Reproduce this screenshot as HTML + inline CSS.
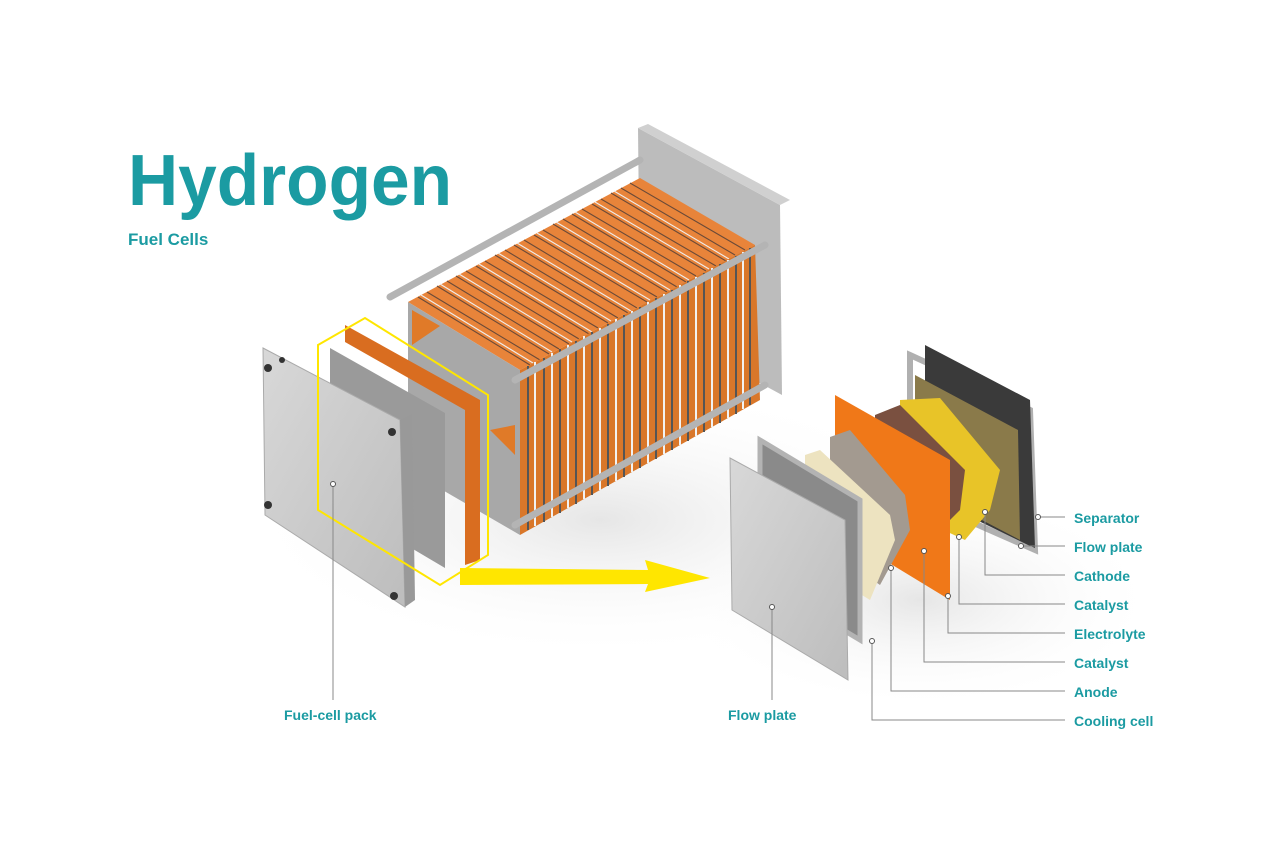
<!DOCTYPE html>
<html><head><meta charset="utf-8"><style>
html,body{margin:0;padding:0;background:#fff;}
svg{display:block}
text{font-family:"Liberation Sans",sans-serif;font-weight:bold;fill:#1b9ba2}
</style></head><body>
<svg width="1280" height="853" viewBox="0 0 1280 853" xmlns="http://www.w3.org/2000/svg">
<defs>
<linearGradient id="pl" x1="0" y1="0" x2="1" y2="1"><stop offset="0" stop-color="#d8d8d8"/><stop offset="1" stop-color="#bdbdbd"/></linearGradient>
<radialGradient id="sh" cx="0.5" cy="0.5" r="0.5"><stop offset="0" stop-color="#e6e6e6"/><stop offset="1" stop-color="#fff" stop-opacity="0"/></radialGradient>
</defs>
<rect width="1280" height="853" fill="#fff"/>
<ellipse cx="600" cy="520" rx="360" ry="140" fill="url(#sh)"/>
<ellipse cx="920" cy="600" rx="240" ry="110" fill="url(#sh)"/>
<text x="128" y="205" font-size="72" textLength="324" lengthAdjust="spacingAndGlyphs">Hydrogen</text>
<text x="128" y="245" font-size="17">Fuel Cells</text>
<!-- big stack -->
<polygon points="638,128 780,205 782,395 640,318" fill="#bcbcbc"/>
<polygon points="638,128 648,124 790,200 780,205" fill="#d0d0d0"/>
<!-- top face -->
<polygon points="408,302 640,178 755,245 520,370" fill="#e8843a"/>
<g stroke="#6a4a38" stroke-width="1.1">
<line x1="418" y1="297" x2="530" y2="365"/><line x1="427" y1="292" x2="540" y2="360"/><line x1="437" y1="286" x2="549" y2="354"/><line x1="447" y1="281" x2="559" y2="349"/><line x1="456" y1="276" x2="569" y2="344"/><line x1="466" y1="271" x2="579" y2="339"/><line x1="476" y1="266" x2="589" y2="334"/><line x1="485" y1="261" x2="598" y2="328"/><line x1="495" y1="255" x2="608" y2="323"/><line x1="505" y1="250" x2="618" y2="318"/><line x1="514" y1="245" x2="628" y2="313"/><line x1="524" y1="240" x2="637" y2="308"/><line x1="534" y1="235" x2="647" y2="302"/><line x1="543" y1="230" x2="657" y2="297"/><line x1="553" y1="224" x2="667" y2="292"/><line x1="563" y1="219" x2="677" y2="287"/><line x1="572" y1="214" x2="686" y2="282"/><line x1="582" y1="209" x2="696" y2="276"/><line x1="592" y1="204" x2="706" y2="271"/><line x1="601" y1="199" x2="716" y2="266"/><line x1="611" y1="193" x2="726" y2="261"/><line x1="621" y1="188" x2="735" y2="255"/><line x1="630" y1="183" x2="745" y2="250"/>
</g>
<g stroke="#eeeeee" stroke-width="1.1" transform="translate(3,-2)">
<line x1="418" y1="297" x2="530" y2="365"/><line x1="437" y1="286" x2="549" y2="354"/><line x1="456" y1="276" x2="569" y2="344"/><line x1="476" y1="266" x2="589" y2="334"/><line x1="495" y1="255" x2="608" y2="323"/><line x1="514" y1="245" x2="628" y2="313"/><line x1="534" y1="235" x2="647" y2="302"/><line x1="553" y1="224" x2="667" y2="292"/><line x1="572" y1="214" x2="686" y2="282"/><line x1="592" y1="204" x2="706" y2="271"/><line x1="611" y1="193" x2="726" y2="261"/>
</g>
<!-- front end frame -->
<polygon points="408,302 520,370 520,535 408,470" fill="#a8a8a8"/>
<polygon points="412,310 440,326 412,345" fill="#e07a28"/>
<polygon points="515,425 515,455 490,430" fill="#e07a28"/>
<polygon points="412,440 440,460 412,462" fill="#e07a28"/>
<!-- side face -->
<polygon points="520,370 755,245 760,400 520,535" fill="#d9772a"/>
<g stroke="#555" stroke-width="2">
<line x1="528" y1="366" x2="528" y2="530"/><line x1="544" y1="358" x2="544" y2="522"/><line x1="560" y1="349" x2="560" y2="513"/><line x1="576" y1="341" x2="576" y2="504"/><line x1="592" y1="332" x2="592" y2="495"/><line x1="608" y1="324" x2="608" y2="486"/><line x1="624" y1="315" x2="624" y2="477"/><line x1="640" y1="307" x2="640" y2="468"/><line x1="656" y1="298" x2="656" y2="459"/><line x1="672" y1="290" x2="672" y2="450"/><line x1="688" y1="281" x2="688" y2="441"/><line x1="704" y1="273" x2="704" y2="432"/><line x1="720" y1="264" x2="720" y2="423"/><line x1="736" y1="256" x2="736" y2="414"/><line x1="750" y1="248" x2="750" y2="405"/>
</g>
<g stroke="#f2f2f2" stroke-width="2">
<line x1="535" y1="362" x2="535" y2="526"/><line x1="552" y1="353" x2="552" y2="517"/><line x1="568" y1="345" x2="568" y2="508"/><line x1="584" y1="336" x2="584" y2="499"/><line x1="600" y1="328" x2="600" y2="490"/><line x1="616" y1="319" x2="616" y2="481"/><line x1="632" y1="311" x2="632" y2="472"/><line x1="648" y1="302" x2="648" y2="463"/><line x1="664" y1="294" x2="664" y2="454"/><line x1="680" y1="285" x2="680" y2="445"/><line x1="696" y1="277" x2="696" y2="436"/><line x1="712" y1="268" x2="712" y2="427"/><line x1="728" y1="260" x2="728" y2="418"/><line x1="743" y1="252" x2="743" y2="409"/>
</g>
<g stroke="#b4b4b4" stroke-width="7" stroke-linecap="round">
<line x1="390" y1="297" x2="640" y2="160"/><line x1="515" y1="380" x2="765" y2="245"/><line x1="515" y1="525" x2="765" y2="385"/>
</g>
<!-- left plates -->
<polygon points="345,325 480,400 480,560 465,565 465,410 345,342" fill="#d96d20"/>
<polygon points="330,348 445,413 445,568 330,500" fill="#9a9a9a"/>
<polygon points="263,348 400,420 405,607 265,515" fill="url(#pl)" stroke="#aaa"/>
<polygon points="400,420 412,414 415,600 405,607" fill="#999"/>
<g fill="#333"><circle cx="268" cy="368" r="4"/><circle cx="392" cy="432" r="4"/><circle cx="268" cy="505" r="4"/><circle cx="394" cy="596" r="4"/><circle cx="282" cy="360" r="3"/></g>
<polygon points="318,345 365,318 488,395 488,555 440,585 318,510" fill="none" stroke="#ffe600" stroke-width="2"/>
<!-- arrow -->
<polygon points="460,568 648,570 645,560 710,578 645,592 648,584 460,585" fill="#ffe600"/>
<!-- right exploded -->
<polygon points="910,355 1030,410 1035,550 910,495" fill="none" stroke="#b0b0b0" stroke-width="6"/>
<polygon points="925,345 1030,400 1035,548 1028,545 925,495" fill="#3a3a3a"/>
<polygon points="915,375 1018,430 1020,540 915,485" fill="#8a7a4a"/>
<polygon points="900,400 940,398 1000,470 990,510 965,540 900,510" fill="#e8c428"/>
<polygon points="875,415 900,405 965,470 960,510 930,540 875,510" fill="#7a5040"/>
<polygon points="835,395 950,460 950,600 835,530" fill="#f07818"/>
<polygon points="830,437 850,430 905,495 910,530 880,585 830,550" fill="#a39a90"/>
<polygon points="805,455 820,450 890,515 895,540 870,600 805,560" fill="#ede3c0"/>
<polygon points="760,440 860,500 860,640 760,580" fill="#8a8a8a" stroke="#b3b3b3" stroke-width="5"/>
<polygon points="730,458 845,520 848,680 732,610" fill="url(#pl)" stroke="#aaa"/>
<!-- leader lines -->
<g stroke="#888" stroke-width="1" fill="none">
<polyline points="333,484 333,700"/><polyline points="772,607 772,700"/>
<polyline points="1038,517 1065,517"/><polyline points="1021,546 1065,546"/>
<polyline points="985,512 985,575 1065,575"/><polyline points="959,537 959,604 1065,604"/>
<polyline points="948,596 948,633 1065,633"/><polyline points="924,551 924,662 1065,662"/>
<polyline points="891,568 891,691 1065,691"/><polyline points="872,641 872,720 1065,720"/>
</g>
<g fill="#fff" stroke="#555" stroke-width="1">
<circle cx="333" cy="484" r="2.5"/><circle cx="772" cy="607" r="2.5"/><circle cx="1038" cy="517" r="2.5"/><circle cx="1021" cy="546" r="2.5"/><circle cx="985" cy="512" r="2.5"/><circle cx="959" cy="537" r="2.5"/><circle cx="948" cy="596" r="2.5"/><circle cx="924" cy="551" r="2.5"/><circle cx="891" cy="568" r="2.5"/><circle cx="872" cy="641" r="2.5"/>
</g>
<g font-size="14">
<text x="284" y="720">Fuel-cell pack</text><text x="728" y="720">Flow plate</text>
<text x="1074" y="523">Separator</text><text x="1074" y="552">Flow plate</text><text x="1074" y="581">Cathode</text><text x="1074" y="610">Catalyst</text><text x="1074" y="639">Electrolyte</text><text x="1074" y="668">Catalyst</text><text x="1074" y="697">Anode</text><text x="1074" y="726">Cooling cell</text>
</g>
</svg>
</body></html>
